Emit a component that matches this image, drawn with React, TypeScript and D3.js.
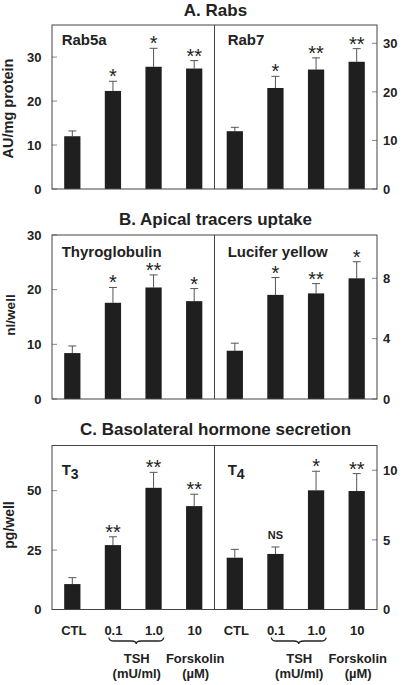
import React from "react";
import * as d3 from "d3";

// ---------- data ----------
const conditions = ["CTL", "0.1", "1.0", "10"];

const rab5a = [12.0, 22.3, 27.8, 27.4];
const rab5aErr = [1.2, 2.2, 4.2, 1.8];
const rab5aSig = ["", "*", "*", "**"];

const rab7 = [11.9, 20.8, 24.6, 26.2];
const rab7Err = [0.8, 2.4, 2.4, 2.7];
const rab7Sig = ["", "*", "**", "**"];

const thyro = [8.4, 17.6, 20.4, 17.9];
const thyroErr = [1.3, 2.8, 2.3, 2.3];
const thyroSig = ["", "*", "**", "*"];

const lucifer = [3.2, 6.9, 7.0, 8.0];
const luciferErr = [0.5, 1.15, 0.65, 1.1];
const luciferSig = ["", "*", "**", "*"];

const t3 = [10.7, 27.1, 51.2, 43.5];
const t3Err = [2.7, 3.5, 6.5, 5.0];
const t3Sig = ["", "**", "**", "**"];

const t4 = [3.72, 3.99, 8.56, 8.51];
const t4Err = [0.6, 0.5, 1.37, 1.25];
const t4Sig = ["", "NS", "*", "**"];

const ticksA_left = [0, 10, 20, 30];
const ticksA_right = [0, 10, 20, 30];
const ticksB_left = [0, 10, 20, 30];
const ticksB_right = [0, 4, 8];
const ticksC_left = [0, 25, 50];
const ticksC_right = [0, 5, 10];

const titles = ["A. Rabs", "B. Apical tracers uptake", "C. Basolateral hormone secretion"];
const yLabels = ["AU/mg protein", "nl/well", "pg/well"];

// ---------- layout ----------
const FONT = "'Liberation Sans', Arial, Helvetica, sans-serif";
const X0 = 52;
const XM = 214.5;
const X1 = 377;
const PANEL_H = 164;
const BAR = "#1f1f1f";

type Half = {
  label: string;
  sub?: string;
  values: number[];
  errs: number[];
  sig: string[];
  max: number;
  ticks: number[];
};

type Row = {
  title: string;
  titleY: number;
  top: number;
  yLabel: string;
  yLabelX: number;
  yLabelC: number;
  yLabelSize: number;
  labelY: number;
  left: Half;
  right: Half;
};

const rows: Row[] = [
  {
    title: titles[0], titleY: 15.7, top: 25, yLabel: yLabels[0], yLabelX: 13, yLabelC: 108.5, yLabelSize: 14.5, labelY: 45,
    left: { label: "Rab5a", values: rab5a, errs: rab5aErr, sig: rab5aSig, max: 37.3, ticks: ticksA_left },
    right: { label: "Rab7", values: rab7, errs: rab7Err, sig: rab7Sig, max: 33.77, ticks: ticksA_right },
  },
  {
    title: titles[1], titleY: 225, top: 235, yLabel: yLabels[1], yLabelX: 14.5, yLabelC: 315, yLabelSize: 13.5, labelY: 256.5,
    left: { label: "Thyroglobulin", values: thyro, errs: thyroErr, sig: thyroSig, max: 30, ticks: ticksB_left },
    right: { label: "Lucifer yellow", values: lucifer, errs: luciferErr, sig: luciferSig, max: 10.87, ticks: ticksB_right },
  },
  {
    title: titles[2], titleY: 435, top: 445.5, yLabel: yLabels[2], yLabelX: 13.5, yLabelC: 525, yLabelSize: 14, labelY: 475,
    left: { label: "T", sub: "3", values: t3, errs: t3Err, sig: t3Sig, max: 69, ticks: ticksC_left },
    right: { label: "T", sub: "4", values: t4, errs: t4Err, sig: t4Sig, max: 11.78, ticks: ticksC_right },
  },
];

function HalfPanel({ h, x0, x1, top, bottom, side, labelY }: { h: Half; x0: number; x1: number; top: number; bottom: number; side: "left" | "right"; labelY: number }) {
  const x = d3.scaleBand<string>().domain(conditions).range([x0, x1]).paddingInner(0.6).paddingOuter(0.3);
  const y = d3.scaleLinear().domain([0, h.max]).range([bottom, top]);
  const bw = x.bandwidth();
  return (
    <g>
      {h.ticks.map((t) => (
        <g key={t}>
          {side === "left" ? (
            <>
              <line x1={X0} x2={X0 + 5} y1={y(t)} y2={y(t)} stroke="#888" strokeWidth={1} />
              <text x={41.5} y={y(t)} dy="0.36em" textAnchor="end" fontSize={13} fontWeight="bold" fill="#222">{t}</text>
            </>
          ) : (
            <>
              <line x1={X1 - 5} x2={X1} y1={y(t)} y2={y(t)} stroke="#888" strokeWidth={1} />
              <text x={383} y={y(t)} dy="0.36em" textAnchor="start" fontSize={13} fontWeight="bold" fill="#222">{t}</text>
            </>
          )}
        </g>
      ))}
      {h.values.map((v, i) => {
        const c = conditions[i];
        const cx = (x(c) as number) + bw / 2;
        const et = y(v + h.errs[i]);
        const s = h.sig[i];
        return (
          <g key={c}>
            <line x1={cx} x2={cx} y1={y(v)} y2={et} stroke="#555" strokeWidth={1} />
            <line x1={cx - 4} x2={cx + 4} y1={et} y2={et} stroke="#555" strokeWidth={1} />
            <rect x={x(c)} y={y(v)} width={bw} height={bottom - y(v)} fill={BAR} />
            {s === "NS" ? (
              <text x={cx} y={et - 8} textAnchor="middle" fontSize={11} fontWeight="bold" fill="#222">NS</text>
            ) : s ? (
              <text x={cx} y={et + 2} textAnchor="middle" fontSize={20} fill="#222">{s}</text>
            ) : null}
          </g>
        );
      })}
      <text x={x0 + (side === "left" ? 9.7 : 13.2)} y={labelY} fontSize={15} fontWeight="bold" fill="#222">
        {h.label}
        {h.sub ? <tspan dy={3.5} fontSize={14}>{h.sub}</tspan> : null}
      </text>
    </g>
  );
}

function AxisLabels({ x0, x1 }: { x0: number; x1: number }) {
  const x = d3.scaleBand<string>().domain(conditions).range([x0, x1]).paddingInner(0.6).paddingOuter(0.3);
  const bw = x.bandwidth();
  const cx = (c: string) => (x(c) as number) + bw / 2;
  const b1 = cx(conditions[1]) - 4;
  const b2 = cx(conditions[2]) + 10;
  const mid = (b1 + b2) / 2;
  const by = 641;
  const brace = `M${b1},637.5 Q${b1},${by} ${b1 + 5},${by} L${mid - 5},${by} Q${mid},${by} ${mid},${by + 3} Q${mid},${by} ${mid + 5},${by} L${b2 - 5},${by} Q${b2},${by} ${b2},637.5`;
  const st = { fontSize: 13, fontWeight: "bold" as const, fill: "#222", textAnchor: "middle" as const };
  return (
    <g>
      {conditions.map((c, i) => (
        <text key={c} x={cx(c) + (i === 0 ? 1.5 : 0.5)} y={635} {...st}>{c}</text>
      ))}
      <path d={brace} fill="none" stroke="#222" strokeWidth={1.3} />
      <text x={mid + 0.5} y={663} {...st}>TSH</text>
      <text x={mid + 0.5} y={677.5} {...st}>(mU/ml)</text>
      <text x={cx(conditions[3]) + 1} y={663} {...st}>Forskolin</text>
      <text x={cx(conditions[3]) + 1.5} y={677.5} {...st}>(µM)</text>
    </g>
  );
}

export default function App() {
  return (
    <svg width={404} height={685} style={{ position: "absolute", left: 0, top: 0, background: "#fff" }} fontFamily={FONT}>
      <rect x={0} y={0} width={404} height={685} fill="#fff" />
      {rows.map((r) => {
        const bottom = r.top + PANEL_H;
        return (
          <g key={r.title}>
            <text x={215.5} y={r.titleY} textAnchor="middle" fontSize={17} fontWeight="bold" fill="#222">{r.title}</text>
            <text
              transform={`translate(${r.yLabelX},${r.yLabelC}) rotate(-90)`}
              textAnchor="middle"
              fontSize={r.yLabelSize}
              fontWeight="bold"
              fill="#222"
            >
              {r.yLabel}
            </text>
            <HalfPanel h={r.left} x0={X0} x1={XM} top={r.top} bottom={bottom} side="left" labelY={r.labelY} />
            <HalfPanel h={r.right} x0={XM} x1={X1} top={r.top} bottom={bottom} side="right" labelY={r.labelY} />
            <rect x={X0} y={r.top} width={X1 - X0} height={PANEL_H} fill="none" stroke="#444" strokeWidth={1} />
            <line x1={XM} x2={XM} y1={r.top} y2={bottom} stroke="#444" strokeWidth={1} />
          </g>
        );
      })}
      <AxisLabels x0={X0} x1={XM} />
      <AxisLabels x0={XM} x1={X1} />
    </svg>
  );
}
